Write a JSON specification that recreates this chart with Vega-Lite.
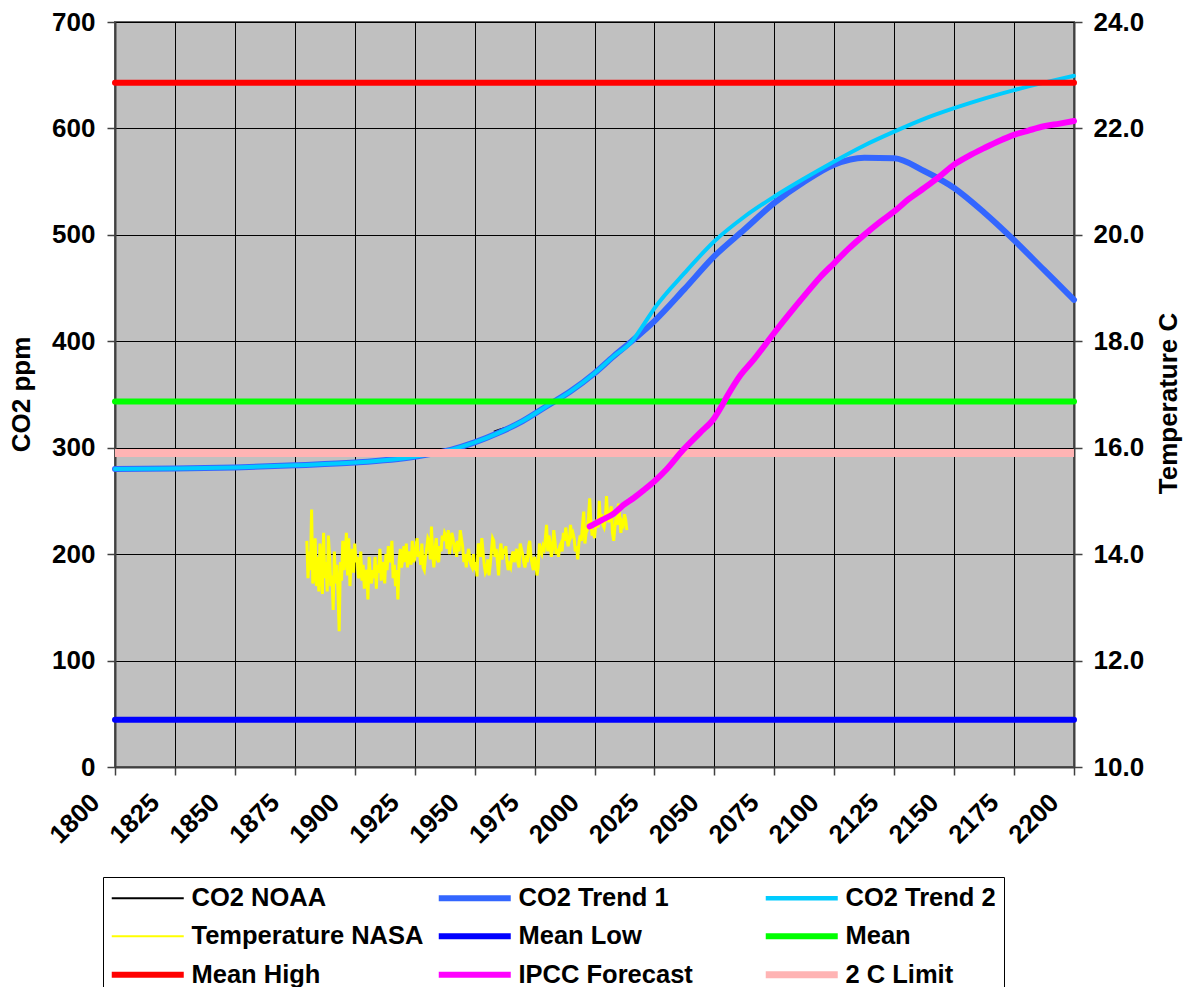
{
  "$schema": "https://vega.github.io/schema/vega-lite/v6.json",
  "width": 959,
  "height": 745,
  "autosize": {"type": "none"},
  "padding": {"left": 115, "top": 22, "right": 111, "bottom": 220},
  "background": "white",
  "config": {
    "font": "Liberation Sans",
    "view": {"fill": "#C0C0C0", "stroke": "#606060", "strokeWidth": 2},
    "axis": {
      "labelFont": "Liberation Sans", "labelFontSize": 26, "labelFontWeight": "bold", "labelColor": "black",
      "titleFont": "Liberation Sans", "titleFontSize": 26, "titleFontWeight": "bold", "titleColor": "black",
      "tickColor": "#404040", "tickSize": 8, "tickWidth": 1.5, "domainColor": "#404040", "domainWidth": 2,
      "gridColor": "black", "gridWidth": 1, "gridOpacity": 1, "labelOverlap": false, "labelFlush": false, "labelBound": false
    },
    "legend": {
      "orient": "none", "legendX": -12, "legendY": 855, "columns": 3, "direction": "horizontal",
      "symbolType": "M-3,0H3", "symbolSize": 576, "symbolOffset": 24, "symbolStrokeWidth": 6,
      "labelFont": "Liberation Sans", "labelFontSize": 25.5,
      "labelFontWeight": "bold", "labelColor": "black", "labelLimit": 400, "labelOffset": 31,
      "strokeColor": "black", "padding": 8, "rowPadding": 9.5, "columnPadding": 0, "gridAlign": "all",
      "symbolOpacity": 1, "fillColor": "white"
    }
  },
  "datasets": {
    "noaa": [
      {"x": 1958, "v": 315.3}, {"x": 1960, "v": 316.9}, {"x": 1962, "v": 318.4}, {"x": 1964, "v": 319.6},
      {"x": 1966, "v": 321.4}, {"x": 1968, "v": 323.1}, {"x": 1970, "v": 325.7}, {"x": 1972, "v": 327.5},
      {"x": 1974, "v": 330.2}, {"x": 1976, "v": 332.1}, {"x": 1978, "v": 335.4}, {"x": 1980, "v": 338.8},
      {"x": 1982, "v": 341.1}, {"x": 1984, "v": 344.4}, {"x": 1986, "v": 347.4}, {"x": 1988, "v": 351.6},
      {"x": 1990, "v": 354.4}, {"x": 1992, "v": 356.4}, {"x": 1994, "v": 358.8}, {"x": 1996, "v": 362.6},
      {"x": 1998, "v": 366.7}, {"x": 2000, "v": 369.7}, {"x": 2002, "v": 373.2}, {"x": 2004, "v": 377.5},
      {"x": 2006, "v": 381.9}, {"x": 2008, "v": 385.6}, {"x": 2010, "v": 389.9}, {"x": 2012, "v": 393.9},
      {"x": 2013, "v": 396.5}
    ],
    "trend1": [
      {"x": 1800, "v": 280}, {"x": 1825, "v": 280.5}, {"x": 1850, "v": 281.5}, {"x": 1875, "v": 283.5},
      {"x": 1900, "v": 286}, {"x": 1925, "v": 291.5}, {"x": 1940, "v": 298}, {"x": 1950, "v": 305},
      {"x": 1960, "v": 314}, {"x": 1970, "v": 325}, {"x": 1980, "v": 339}, {"x": 1990, "v": 353},
      {"x": 2000, "v": 370}, {"x": 2008, "v": 386}, {"x": 2016, "v": 401}, {"x": 2025, "v": 419},
      {"x": 2037.5, "v": 449}, {"x": 2050, "v": 480}, {"x": 2062.5, "v": 505}, {"x": 2075, "v": 530},
      {"x": 2087.5, "v": 550}, {"x": 2100, "v": 566}, {"x": 2112.5, "v": 572.5}, {"x": 2125, "v": 572},
      {"x": 2137.5, "v": 560}, {"x": 2150, "v": 544}, {"x": 2162.5, "v": 521}, {"x": 2175, "v": 495},
      {"x": 2187.5, "v": 467}, {"x": 2200, "v": 439}
    ],
    "trend2": [
      {"x": 1800, "v": 280}, {"x": 1825, "v": 280.5}, {"x": 1850, "v": 281.5}, {"x": 1875, "v": 283.5},
      {"x": 1900, "v": 286}, {"x": 1925, "v": 291.5}, {"x": 1940, "v": 298}, {"x": 1950, "v": 305},
      {"x": 1960, "v": 314}, {"x": 1970, "v": 325}, {"x": 1980, "v": 339}, {"x": 1990, "v": 353},
      {"x": 2000, "v": 370}, {"x": 2008, "v": 386}, {"x": 2016, "v": 401}, {"x": 2020, "v": 414},
      {"x": 2025, "v": 431}, {"x": 2037.5, "v": 464}, {"x": 2050, "v": 494}, {"x": 2062.5, "v": 517},
      {"x": 2075, "v": 536}, {"x": 2087.5, "v": 553}, {"x": 2100, "v": 569}, {"x": 2112.5, "v": 584},
      {"x": 2125, "v": 597}, {"x": 2137.5, "v": 609}, {"x": 2150, "v": 619}, {"x": 2162.5, "v": 628},
      {"x": 2175, "v": 636}, {"x": 2187.5, "v": 643}, {"x": 2200, "v": 649.5}
    ],
    "nasa": [
      {"x": 1880, "v": 14.25}, {"x": 1880.5, "v": 13.55}, {"x": 1881, "v": 14.05}, {"x": 1881.5, "v": 13.7},
      {"x": 1882, "v": 14.84}, {"x": 1882.5, "v": 13.45}, {"x": 1883, "v": 13.6}, {"x": 1883.5, "v": 14.3},
      {"x": 1884, "v": 13.4}, {"x": 1884.5, "v": 13.95}, {"x": 1885, "v": 13.3}, {"x": 1885.5, "v": 14.2},
      {"x": 1886, "v": 13.75}, {"x": 1886.5, "v": 13.25}, {"x": 1887, "v": 14.4}, {"x": 1887.5, "v": 13.55},
      {"x": 1888, "v": 13.85}, {"x": 1888.5, "v": 13.3}, {"x": 1889, "v": 14.35}, {"x": 1889.5, "v": 13.95},
      {"x": 1890, "v": 13.4}, {"x": 1890.5, "v": 13.6}, {"x": 1891, "v": 12.95}, {"x": 1891.5, "v": 14.05},
      {"x": 1892, "v": 13.45}, {"x": 1892.5, "v": 13.8}, {"x": 1893, "v": 13.3}, {"x": 1893.5, "v": 12.55},
      {"x": 1894, "v": 13.85}, {"x": 1894.5, "v": 13.5}, {"x": 1895, "v": 14.25}, {"x": 1895.5, "v": 13.7},
      {"x": 1896, "v": 13.95}, {"x": 1896.5, "v": 14.4}, {"x": 1897, "v": 13.6}, {"x": 1897.5, "v": 14.3},
      {"x": 1898, "v": 13.4}, {"x": 1898.5, "v": 13.9}, {"x": 1899, "v": 14.1}, {"x": 1899.5, "v": 13.65},
      {"x": 1900, "v": 14.2}, {"x": 1900.5, "v": 13.85}, {"x": 1901, "v": 13.95}, {"x": 1901.5, "v": 13.55},
      {"x": 1902, "v": 13.6}, {"x": 1902.5, "v": 14.05}, {"x": 1903, "v": 13.5}, {"x": 1903.5, "v": 13.8},
      {"x": 1904, "v": 13.35}, {"x": 1904.5, "v": 13.65}, {"x": 1905, "v": 13.7}, {"x": 1905.5, "v": 13.15},
      {"x": 1906, "v": 13.95}, {"x": 1906.5, "v": 13.6}, {"x": 1907, "v": 13.45}, {"x": 1907.5, "v": 13.7},
      {"x": 1908, "v": 13.55}, {"x": 1908.5, "v": 13.95}, {"x": 1909, "v": 13.35}, {"x": 1909.5, "v": 13.8},
      {"x": 1910, "v": 13.65}, {"x": 1910.5, "v": 14.1}, {"x": 1911, "v": 13.5}, {"x": 1911.5, "v": 13.85},
      {"x": 1912, "v": 13.75}, {"x": 1912.5, "v": 13.45}, {"x": 1913, "v": 14.0}, {"x": 1913.5, "v": 13.7},
      {"x": 1914, "v": 14.15}, {"x": 1914.5, "v": 13.85}, {"x": 1915, "v": 13.9}, {"x": 1915.5, "v": 14.25},
      {"x": 1916, "v": 13.55}, {"x": 1916.5, "v": 13.8}, {"x": 1917, "v": 13.4}, {"x": 1917.5, "v": 13.7},
      {"x": 1918, "v": 13.15}, {"x": 1918.5, "v": 13.85}, {"x": 1919, "v": 14.1}, {"x": 1919.5, "v": 13.75},
      {"x": 1920, "v": 13.9}, {"x": 1920.5, "v": 14.15}, {"x": 1921, "v": 13.85}, {"x": 1921.5, "v": 14.2},
      {"x": 1922, "v": 13.75}, {"x": 1922.5, "v": 14.05}, {"x": 1923, "v": 13.95}, {"x": 1923.5, "v": 13.8},
      {"x": 1924, "v": 14.25}, {"x": 1924.5, "v": 13.85}, {"x": 1925, "v": 13.9}, {"x": 1925.5, "v": 14.15},
      {"x": 1926, "v": 14.3}, {"x": 1926.5, "v": 13.95}, {"x": 1927, "v": 14.05}, {"x": 1927.5, "v": 13.8},
      {"x": 1928, "v": 14.2}, {"x": 1928.5, "v": 13.75}, {"x": 1929, "v": 13.7}, {"x": 1929.5, "v": 13.95},
      {"x": 1930, "v": 14.1}, {"x": 1930.5, "v": 14.3}, {"x": 1931, "v": 14.25}, {"x": 1931.5, "v": 13.9},
      {"x": 1932, "v": 14.52}, {"x": 1932.5, "v": 14.0}, {"x": 1933, "v": 13.75}, {"x": 1933.5, "v": 14.1},
      {"x": 1934, "v": 14.3}, {"x": 1934.5, "v": 13.9}, {"x": 1935, "v": 13.85}, {"x": 1935.5, "v": 14.15},
      {"x": 1936, "v": 14.05}, {"x": 1936.5, "v": 14.35}, {"x": 1937, "v": 14.25}, {"x": 1937.5, "v": 14.4},
      {"x": 1938, "v": 14.35}, {"x": 1938.5, "v": 14.1}, {"x": 1939, "v": 14.45}, {"x": 1939.5, "v": 14.0},
      {"x": 1940, "v": 14.2}, {"x": 1940.5, "v": 14.4}, {"x": 1941, "v": 14.3}, {"x": 1941.5, "v": 14.1},
      {"x": 1942, "v": 14.15}, {"x": 1942.5, "v": 13.95}, {"x": 1943, "v": 14.25}, {"x": 1943.5, "v": 14.05},
      {"x": 1944, "v": 14.45}, {"x": 1944.5, "v": 14.3}, {"x": 1945, "v": 14.15}, {"x": 1945.5, "v": 13.85},
      {"x": 1946, "v": 14.0}, {"x": 1946.5, "v": 13.75}, {"x": 1947, "v": 13.95}, {"x": 1947.5, "v": 14.1},
      {"x": 1948, "v": 13.9}, {"x": 1948.5, "v": 13.8}, {"x": 1949, "v": 13.75}, {"x": 1949.5, "v": 14.0},
      {"x": 1950, "v": 13.7}, {"x": 1950.5, "v": 13.85}, {"x": 1951, "v": 13.58}, {"x": 1951.5, "v": 14.2},
      {"x": 1952, "v": 14.15}, {"x": 1952.5, "v": 13.95}, {"x": 1953, "v": 14.3}, {"x": 1953.5, "v": 14.05},
      {"x": 1954, "v": 13.8}, {"x": 1954.5, "v": 13.65}, {"x": 1955, "v": 13.7}, {"x": 1955.5, "v": 13.9},
      {"x": 1956, "v": 13.6}, {"x": 1956.5, "v": 13.8}, {"x": 1957, "v": 14.05}, {"x": 1957.5, "v": 14.3},
      {"x": 1958, "v": 14.25}, {"x": 1958.5, "v": 13.95}, {"x": 1959, "v": 14.1}, {"x": 1959.5, "v": 13.85},
      {"x": 1960, "v": 13.6}, {"x": 1960.5, "v": 14.05}, {"x": 1961, "v": 14.2}, {"x": 1961.5, "v": 13.9},
      {"x": 1962, "v": 14.1}, {"x": 1962.5, "v": 14.0}, {"x": 1963, "v": 14.15}, {"x": 1963.5, "v": 13.85},
      {"x": 1964, "v": 13.7}, {"x": 1964.5, "v": 13.8}, {"x": 1965, "v": 13.75}, {"x": 1965.5, "v": 13.95},
      {"x": 1966, "v": 14.05}, {"x": 1966.5, "v": 13.85}, {"x": 1967, "v": 13.95}, {"x": 1967.5, "v": 14.1},
      {"x": 1968, "v": 13.85}, {"x": 1968.5, "v": 13.75}, {"x": 1969, "v": 14.2}, {"x": 1969.5, "v": 14.1},
      {"x": 1970, "v": 14.0}, {"x": 1970.5, "v": 13.85}, {"x": 1971, "v": 13.75}, {"x": 1971.5, "v": 13.9},
      {"x": 1972, "v": 13.85}, {"x": 1972.5, "v": 14.15}, {"x": 1973, "v": 14.25}, {"x": 1973.5, "v": 13.95},
      {"x": 1974, "v": 13.8}, {"x": 1974.5, "v": 13.7}, {"x": 1975, "v": 13.95}, {"x": 1975.5, "v": 13.85},
      {"x": 1976, "v": 13.6}, {"x": 1976.5, "v": 13.75}, {"x": 1977, "v": 14.2}, {"x": 1977.5, "v": 14.05},
      {"x": 1978, "v": 14.0}, {"x": 1978.5, "v": 14.15}, {"x": 1979, "v": 14.1}, {"x": 1979.5, "v": 14.3},
      {"x": 1980, "v": 14.55}, {"x": 1980.5, "v": 14.05}, {"x": 1981, "v": 14.35}, {"x": 1981.5, "v": 14.2},
      {"x": 1982, "v": 13.95}, {"x": 1982.5, "v": 14.1}, {"x": 1983, "v": 14.45}, {"x": 1983.5, "v": 14.25},
      {"x": 1984, "v": 14.0}, {"x": 1984.5, "v": 14.1}, {"x": 1985, "v": 13.95}, {"x": 1985.5, "v": 14.15},
      {"x": 1986, "v": 14.2}, {"x": 1986.5, "v": 14.05}, {"x": 1987, "v": 14.4}, {"x": 1987.5, "v": 14.25},
      {"x": 1988, "v": 14.5}, {"x": 1988.5, "v": 14.3}, {"x": 1989, "v": 14.15}, {"x": 1989.5, "v": 14.25},
      {"x": 1990, "v": 14.55}, {"x": 1990.5, "v": 14.35}, {"x": 1991, "v": 14.4}, {"x": 1991.5, "v": 14.3},
      {"x": 1992, "v": 14.05}, {"x": 1992.5, "v": 14.15}, {"x": 1993, "v": 13.9}, {"x": 1993.5, "v": 14.2},
      {"x": 1994, "v": 14.35}, {"x": 1994.5, "v": 14.25}, {"x": 1995, "v": 14.55}, {"x": 1995.5, "v": 14.8},
      {"x": 1996, "v": 14.2}, {"x": 1996.5, "v": 14.4}, {"x": 1997, "v": 14.45}, {"x": 1997.5, "v": 14.7},
      {"x": 1998, "v": 15.05}, {"x": 1998.5, "v": 14.6}, {"x": 1999, "v": 14.35}, {"x": 1999.5, "v": 14.45},
      {"x": 2000, "v": 14.3}, {"x": 2000.5, "v": 14.55}, {"x": 2001, "v": 14.65}, {"x": 2001.5, "v": 14.5},
      {"x": 2002, "v": 15.0}, {"x": 2002.5, "v": 14.6}, {"x": 2003, "v": 14.75}, {"x": 2003.5, "v": 14.55},
      {"x": 2004, "v": 14.5}, {"x": 2004.5, "v": 14.65}, {"x": 2005, "v": 15.09}, {"x": 2005.5, "v": 14.7},
      {"x": 2006, "v": 14.6}, {"x": 2006.5, "v": 14.75}, {"x": 2007, "v": 14.9}, {"x": 2007.5, "v": 14.4},
      {"x": 2008, "v": 14.25}, {"x": 2008.5, "v": 14.5}, {"x": 2009, "v": 14.7}, {"x": 2009.5, "v": 14.55},
      {"x": 2010, "v": 14.95}, {"x": 2010.5, "v": 14.7}, {"x": 2011, "v": 14.4}, {"x": 2011.5, "v": 14.6},
      {"x": 2012, "v": 14.55}, {"x": 2012.5, "v": 14.75}, {"x": 2013, "v": 14.65}, {"x": 2013.5, "v": 14.45}
    ],
    "ipcc": [
      {"x": 1998, "v": 14.52}, {"x": 2003, "v": 14.64}, {"x": 2008, "v": 14.76}, {"x": 2012, "v": 14.92},
      {"x": 2016.5, "v": 15.06}, {"x": 2021, "v": 15.22}, {"x": 2025, "v": 15.37}, {"x": 2030, "v": 15.59},
      {"x": 2037, "v": 15.96}, {"x": 2044, "v": 16.28}, {"x": 2050, "v": 16.56}, {"x": 2053, "v": 16.78},
      {"x": 2055.5, "v": 16.98}, {"x": 2061, "v": 17.37}, {"x": 2066.5, "v": 17.66}, {"x": 2075, "v": 18.16},
      {"x": 2081, "v": 18.5}, {"x": 2088.5, "v": 18.91}, {"x": 2094, "v": 19.2}, {"x": 2100, "v": 19.47},
      {"x": 2106, "v": 19.74}, {"x": 2112.5, "v": 20.0}, {"x": 2119, "v": 20.24}, {"x": 2125, "v": 20.44},
      {"x": 2131, "v": 20.67}, {"x": 2137.5, "v": 20.88}, {"x": 2144, "v": 21.1}, {"x": 2150, "v": 21.32},
      {"x": 2156, "v": 21.48}, {"x": 2162.5, "v": 21.63}, {"x": 2169, "v": 21.77}, {"x": 2175, "v": 21.88},
      {"x": 2181, "v": 21.96}, {"x": 2187.5, "v": 22.04}, {"x": 2194, "v": 22.09}, {"x": 2200, "v": 22.14}
    ],
    "meanlow": [{"x": 1800, "v": 10.89}, {"x": 2200, "v": 10.89}],
    "mean": [{"x": 1800, "v": 16.87}, {"x": 2200, "v": 16.87}],
    "meanhigh": [{"x": 1800, "v": 22.86}, {"x": 2200, "v": 22.86}],
    "limit": [{"x": 1800, "v": 15.9}, {"x": 2200, "v": 15.9}]
  },
  "encoding": {
    "x": {
      "field": "x", "type": "quantitative",
      "scale": {"domain": [1800, 2200], "nice": false, "zero": false},
      "axis": {
        "values": [1800, 1825, 1850, 1875, 1900, 1925, 1950, 1975, 2000, 2025, 2050, 2075, 2100, 2125, 2150, 2175, 2200],
        "format": "d", "title": null, "grid": true, "labelAngle": -45, "labelAlign": "right",
        "labelBaseline": "middle", "labelPadding": 23, "labelOffset": -20
      }
    }
  },
  "layer": [
    {
      "encoding": {
        "y": {
          "field": "v", "type": "quantitative",
          "scale": {"domain": [0, 700], "nice": false, "zero": true},
          "axis": {
            "orient": "left", "values": [0, 100, 200, 300, 400, 500, 600, 700], "format": "d",
            "title": "CO2 ppm", "titleX": -94, "titleY": 372, "titleAngle": 270,
            "titleAlign": "center", "titleBaseline": "middle", "grid": true, "labelPadding": 12
          }
        }
      },
      "layer": [
        {
          "data": {"name": "noaa"},
          "mark": {"type": "line", "interpolate": "linear", "strokeWidth": 1.5},
          "encoding": {
            "color": {
              "datum": "CO2 NOAA", "type": "nominal",
              "scale": {
                "domain": ["CO2 NOAA", "CO2 Trend 1", "CO2 Trend 2", "Temperature NASA", "Mean Low", "Mean", "Mean High", "IPCC Forecast", "2 C Limit"],
                "range": ["#000000", "#3366FF", "#00CCFF", "#FFFF00", "#0000FF", "#00FF00", "#FF0000", "#FF00FF", "#FFB4B4"]
              },
              "legend": {
                "title": null,
                "labelExpr": "datum.label == 'CO2 Trend 2' ? datum.label + '\u00a0\u00a0\u00a0\u00a0\u00a0\u00a0\u00a0\u00a0\u00a0\u00a0\u00a0\u00a0' : datum.label",
                "encode": {
                  "symbols": {
                    "update": {
                      "strokeWidth": {"signal": "datum.value === 'CO2 NOAA' || datum.value === 'Temperature NASA' ? 2 : datum.value === 'CO2 Trend 2' ? 4.5 : datum.value === '2 C Limit' ? 7 : 6"}
                    }
                  }
                }
              }
            }
          }
        },
        {
          "data": {"name": "trend1"},
          "mark": {"type": "line", "interpolate": "monotone", "strokeCap": "round", "strokeWidth": 6},
          "encoding": {"color": {"datum": "CO2 Trend 1", "type": "nominal"}}
        },
        {
          "data": {"name": "trend2"},
          "mark": {"type": "line", "interpolate": "monotone", "strokeCap": "round", "strokeWidth": 4},
          "encoding": {"color": {"datum": "CO2 Trend 2", "type": "nominal"}}
        }
      ]
    },
    {
      "encoding": {
        "y": {
          "field": "v", "type": "quantitative",
          "scale": {"domain": [10, 24], "nice": false, "zero": false},
          "axis": {
            "orient": "right", "values": [10, 12, 14, 16, 18, 20, 22, 24], "format": ".1f",
            "title": "Temperature C", "titleX": 94, "titleY": 381, "titleAngle": 270,
            "titleAlign": "center", "titleBaseline": "middle", "grid": false, "labelPadding": 11
          }
        }
      },
      "layer": [
        {
          "data": {"name": "nasa"},
          "mark": {"type": "line", "interpolate": "linear", "strokeWidth": 3},
          "encoding": {"color": {"datum": "Temperature NASA", "type": "nominal"}}
        },
        {
          "data": {"name": "meanlow"},
          "mark": {"type": "line", "strokeCap": "round", "strokeWidth": 6},
          "encoding": {"color": {"datum": "Mean Low", "type": "nominal"}}
        },
        {
          "data": {"name": "mean"},
          "mark": {"type": "line", "strokeCap": "round", "strokeWidth": 6},
          "encoding": {"color": {"datum": "Mean", "type": "nominal"}}
        },
        {
          "data": {"name": "meanhigh"},
          "mark": {"type": "line", "strokeCap": "round", "strokeWidth": 6},
          "encoding": {"color": {"datum": "Mean High", "type": "nominal"}}
        },
        {
          "data": {"name": "limit"},
          "mark": {"type": "line", "strokeCap": "butt", "strokeWidth": 8},
          "encoding": {"color": {"datum": "2 C Limit", "type": "nominal"}}
        },
        {
          "data": {"name": "ipcc"},
          "mark": {"type": "line", "interpolate": "monotone", "strokeCap": "round", "strokeWidth": 6},
          "encoding": {"color": {"datum": "IPCC Forecast", "type": "nominal"}}
        }
      ]
    }
  ],
  "resolve": {"scale": {"y": "independent"}}
}
